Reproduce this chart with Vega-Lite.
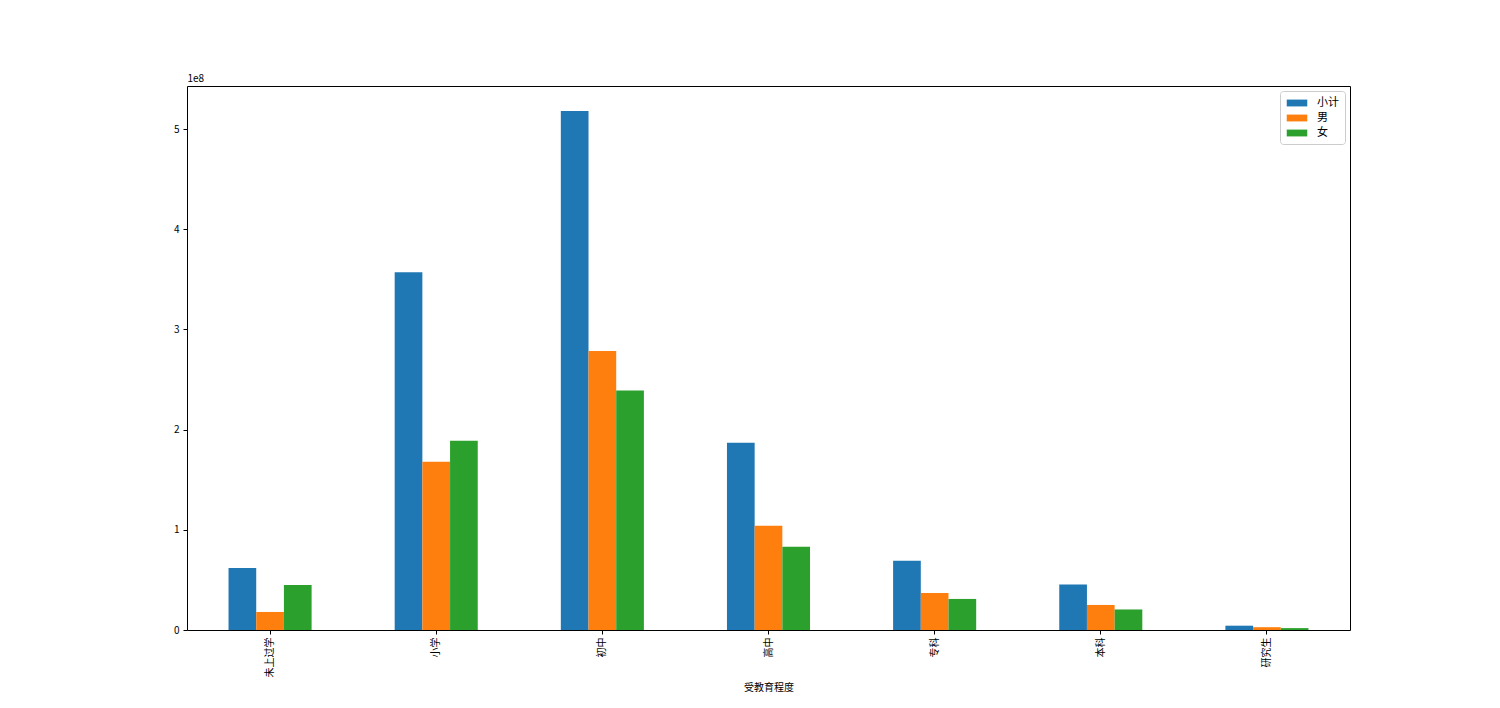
{
  "$schema": "https://vega.github.io/schema/vega-lite/v6.json",
  "autosize": "none",
  "width": 1163,
  "height": 544,
  "padding": {"left": 187, "top": 86, "right": 150, "bottom": 78},
  "background": "white",
  "config": {
    "font": "Noto Sans CJK SC",
    "view": {"stroke": "black", "strokeWidth": 1},
    "axis": {"labelFont": "Noto Sans CJK SC", "titleFont": "Noto Sans CJK SC", "labelColor": "black", "titleColor": "black", "domainColor": "black", "tickColor": "black", "labelFontSize": 10, "titleFontSize": 10, "titleFontWeight": "normal", "grid": false, "tickSize": 4}
  },
  "data": {
    "values": [
      {"edu": "未上过学", "sex": "小计", "value": 62000000},
      {"edu": "未上过学", "sex": "男", "value": 18000000},
      {"edu": "未上过学", "sex": "女", "value": 45000000},
      {"edu": "小学", "sex": "小计", "value": 357000000},
      {"edu": "小学", "sex": "男", "value": 168000000},
      {"edu": "小学", "sex": "女", "value": 189000000},
      {"edu": "初中", "sex": "小计", "value": 518000000},
      {"edu": "初中", "sex": "男", "value": 278500000},
      {"edu": "初中", "sex": "女", "value": 239000000},
      {"edu": "高中", "sex": "小计", "value": 187000000},
      {"edu": "高中", "sex": "男", "value": 104000000},
      {"edu": "高中", "sex": "女", "value": 83000000},
      {"edu": "专科", "sex": "小计", "value": 69000000},
      {"edu": "专科", "sex": "男", "value": 37000000},
      {"edu": "专科", "sex": "女", "value": 31000000},
      {"edu": "本科", "sex": "小计", "value": 45500000},
      {"edu": "本科", "sex": "男", "value": 25000000},
      {"edu": "本科", "sex": "女", "value": 20500000},
      {"edu": "研究生", "sex": "小计", "value": 4300000},
      {"edu": "研究生", "sex": "男", "value": 2800000},
      {"edu": "研究生", "sex": "女", "value": 1900000}
    ]
  },
  "mark": {"type": "bar"},
  "encoding": {
    "x": {
      "field": "edu", "type": "nominal",
      "sort": ["未上过学", "小学", "初中", "高中", "专科", "本科", "研究生"],
      "scale": {"paddingInner": 0.5, "paddingOuter": 0.25},
      "axis": {"title": "受教育程度", "labelAngle": -90, "labelAlign": "right", "labelBaseline": "middle", "labelPadding": 3, "titlePadding": 6, "domain": false}
    },
    "xOffset": {
      "field": "sex", "type": "nominal",
      "sort": ["小计", "男", "女"],
      "scale": {"paddingInner": 0, "paddingOuter": 0}
    },
    "y": {
      "field": "value", "type": "quantitative",
      "scale": {"domain": [0, 543000000], "nice": false},
      "axis": {"values": [0, 100000000, 200000000, 300000000, 400000000, 500000000], "labelExpr": "datum.value / 1e8", "title": "1e8", "titleAngle": 0, "titleX": 0, "titleY": -3, "titleAlign": "left", "titleBaseline": "bottom", "domain": false, "labelPadding": 4}
    },
    "color": {
      "field": "sex", "type": "nominal",
      "sort": ["小计", "男", "女"],
      "scale": {"domain": ["小计", "男", "女"], "range": ["#1f77b4", "#ff7f0e", "#2ca02c"]},
      "legend": {
        "title": null, "orient": "top-right", "offset": 5, "padding": 6,
        "strokeColor": "#cccccc", "cornerRadius": 3,
        "symbolType": "M-1.8,-0.6L1.8,-0.6L1.8,0.6L-1.8,0.6Z", "symbolSize": 130,
        "symbolOffset": 5,
        "labelOffset": 14,
        "labelFontSize": 11, "labelFont": "Noto Sans CJK SC", "labelColor": "black",
        "rowPadding": 4, "symbolStrokeWidth": 0
      }
    }
  }
}
